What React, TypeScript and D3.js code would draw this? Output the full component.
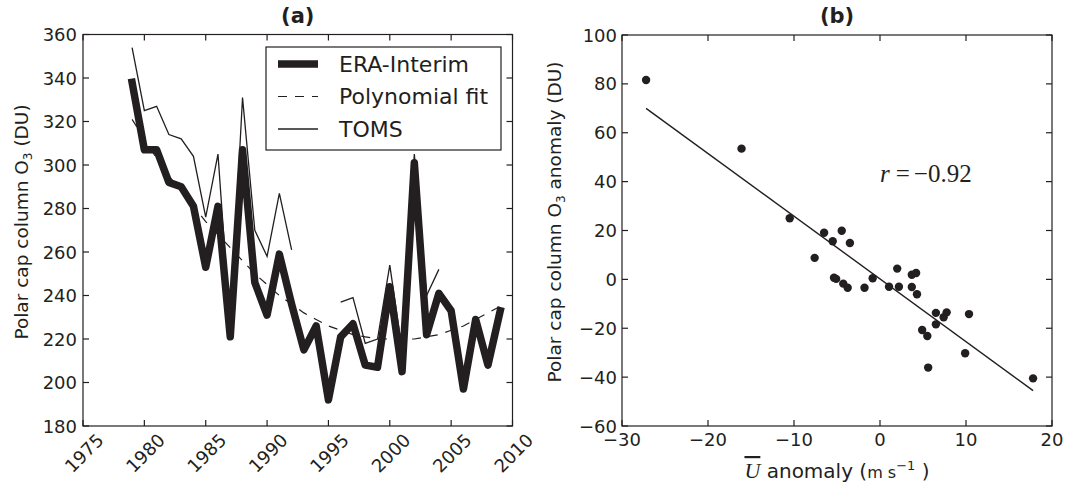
import * as d3 from 'd3'

// panel (a): polar cap column ozone, 1979-2009
const years = [1979, 1980, 1981, 1982, 1983, 1984, 1985, 1986, 1987, 1988, 1989, 1990, 1991, 1992, 1993, 1994,
  1995, 1996, 1997, 1998, 1999, 2000, 2001, 2002, 2003, 2004, 2005, 2006, 2007, 2008, 2009]
const eraInterim = [338, 307, 307, 292, 290, 281, 253, 281, 221, 307, 246, 231, 259, 236, 215, 226,
  192, 221, 227, 208, 207, 244, 205, 301, 222, 241, 233, 197, 229, 208, 233]
const polyFit = [321, 312, 303, 295, 288, 281, 274, 268, 262, 256, 250, 245, 240, 236, 232, 229,
  226, 224, 222, 221, 220, 220, 220, 220, 221, 222, 224, 226, 229, 232, 235]
const toms: (number | null)[] = [354, 325, 327, 314, 312, 304, 276, 305, 225, 331, 270, 258, 287, 261, null, null,
  null, 237, 239, 218, 220, 254, 215, 305, 240, 252, null, null, null, null, null]
const yearTicks = [1975, 1980, 1985, 1990, 1995, 2000, 2005, 2010]
const o3Ticks = [180, 200, 220, 240, 260, 280, 300, 320, 340, 360]
const legendLabels = ['ERA-Interim', 'Polynomial fit', 'TOMS']

// panel (b): wind anomaly vs ozone anomaly
const uAnomaly = [-27.2, -16.1, -10.5, -7.6, -6.5, -5.5, -4.45, -3.5, -5.35, -5.1, -4.27, -3.76, -1.8, -0.85, 1.05, 2.0,
  2.2, 3.7, 3.7, 4.2, 4.3, 4.9, 5.5, 5.6, 6.5, 6.5, 7.4, 7.75, 10.35, 9.9, 17.8]
const o3Anomaly = [81.6, 53.5, 25, 8.8, 19.1, 15.6, 19.9, 14.9, 0.7, 0.2, -1.75, -3.4, -3.4, 0.45, -3.0, 4.4,
  -3.0, -3.1, 1.9, 2.6, -6.1, -20.7, -23.2, -36.1, -13.7, -18.4, -15.5, -13.5, -14.2, -30.2, -40.5]
const regressionU = [-27.2, 17.8]
const regressionO3 = [70, -45.5]
const uTicks = [-30, -20, -10, 0, 10, 20]
const anomTicks = [-60, -40, -20, 0, 20, 40, 60, 80, 100]

const ink = '#231f20'
const font = 'DejaVu Sans'
const fmt = (d: number) => (d < 0 ? '\u2212' + Math.abs(d) : String(d))

function Frame({ xs, ys, xTicks, yTicks }: any) {
  const [x0, x1] = xs.range()
  const [y0, y1] = ys.range()
  const tl = 6
  return (
    <g stroke={ink} strokeWidth={1.2} fill="none">
      {xTicks.map((t: number) => (
        <g key={'x' + t}>
          <line x1={xs(t)} x2={xs(t)} y1={y0} y2={y0 - tl} />
          <line x1={xs(t)} x2={xs(t)} y1={y1} y2={y1 + tl} />
        </g>
      ))}
      {yTicks.map((t: number) => (
        <g key={'y' + t}>
          <line x1={x0} x2={x0 + tl} y1={ys(t)} y2={ys(t)} />
          <line x1={x1} x2={x1 - tl} y1={ys(t)} y2={ys(t)} />
        </g>
      ))}
      <rect x={x0} y={y1} width={x1 - x0} height={y0 - y1} />
    </g>
  )
}

export default function App() {
  const xa = d3.scaleLinear().domain([1975, 2010]).range([83, 512.5])
  const ya = d3.scaleLinear().domain([180, 360]).range([426, 34.5])
  const xb = d3.scaleLinear().domain([-30, 20]).range([622, 1052])
  const yb = d3.scaleLinear().domain([-60, 100]).range([426, 35])

  const lineA = d3.line<any>().defined((d) => d[1] != null).x((d) => xa(d[0])).y((d) => ya(d[1]))
  const eraPath = lineA(years.map((y, i) => [y, eraInterim[i]]))
  const fitPath = lineA(years.map((y, i) => [y, polyFit[i]]))
  const tomsPath = lineA(years.map((y, i) => [y, toms[i]]))
  const regPath = d3.line<number>().x((d) => xb(d)).y((d, i) => yb(regressionO3[i]))(regressionU)

  const legendStyles = [
    { w: 7.5, dash: undefined },
    { w: 1.2, dash: '9,8' },
    { w: 1.3, dash: undefined },
  ]

  return (
    <svg width={1067} height={484} style={{ position: 'absolute', left: 0, top: 0, background: '#fff' }}
      fontFamily={font} fill={ink}>
      {/* ---------- panel (a) ---------- */}
      <text x={(xa.range()[0] + xa.range()[1]) / 2} y={23} textAnchor="middle" fontWeight="bold" fontSize={21}>(a)</text>
      <path d={fitPath!} fill="none" stroke={ink} strokeWidth={1.2} strokeDasharray="9,8" />
      <path d={tomsPath!} fill="none" stroke={ink} strokeWidth={1.3} strokeLinejoin="miter" />
      <path d={eraPath!} fill="none" stroke={ink} strokeWidth={7.5} strokeLinejoin="round" strokeLinecap="square" />
      <Frame xs={xa} ys={ya} xTicks={yearTicks} yTicks={o3Ticks} />
      {o3Ticks.map((t) => (
        <text key={t} x={xa.range()[0] - 6} y={ya(t)} textAnchor="end" dominantBaseline="central" fontSize={18}>{t}</text>
      ))}
      {yearTicks.map((t) => (
        <text key={t} transform={`translate(${xa(t) + 1},453) rotate(-45)`} textAnchor="middle"
          dominantBaseline="central" fontSize={18}>{t}</text>
      ))}
      <text transform="translate(28,222) rotate(-90)" textAnchor="middle" fontSize={18.5}>
        Polar cap column O<tspan fontSize={12} dy={4}>3</tspan><tspan dy={-4}> (DU)</tspan>
      </text>
      {/* legend */}
      <rect x={266} y={47} width={235} height={103} fill="#fff" stroke={ink} strokeWidth={1.2} />
      {legendLabels.map((lab, i) => {
        const y = 64 + i * 32.5
        const s = legendStyles[i]
        return (
          <g key={lab}>
            <line x1={278} x2={318} y1={y} y2={y} stroke={ink} strokeWidth={s.w} strokeDasharray={s.dash} />
            <text x={339} y={y} dominantBaseline="central" fontSize={22}>{lab}</text>
          </g>
        )
      })}

      {/* ---------- panel (b) ---------- */}
      <text x={(xb.range()[0] + xb.range()[1]) / 2} y={23} textAnchor="middle" fontWeight="bold" fontSize={21}>(b)</text>
      <path d={regPath!} fill="none" stroke={ink} strokeWidth={1.4} />
      {uAnomaly.map((u, i) => (
        <circle key={i} cx={xb(u)} cy={yb(o3Anomaly[i])} r={4.2} fill={ink} />
      ))}
      <Frame xs={xb} ys={yb} xTicks={uTicks} yTicks={anomTicks} />
      {anomTicks.map((t) => (
        <text key={t} x={xb.range()[0] - 5} y={yb(t)} textAnchor="end" dominantBaseline="central" fontSize={18}>{fmt(t)}</text>
      ))}
      {uTicks.map((t) => (
        <text key={t} x={xb(t)} y={446} textAnchor="middle" fontSize={18}>{fmt(t)}</text>
      ))}
      <text transform="translate(561,222) rotate(-90)" textAnchor="middle" fontSize={18.5}>
        Polar cap column O<tspan fontSize={12} dy={4}>3</tspan><tspan dy={-4}> anomaly (DU)</tspan>
      </text>
      <text x={(xb.range()[0] + xb.range()[1]) / 2} y={478} textAnchor="middle" fontSize={20}>
        <tspan fontFamily="Liberation Serif" fontStyle="italic" fontSize={22} style={{ textDecoration: 'overline' }}>U</tspan>
        <tspan> anomaly (</tspan>
        <tspan fontSize={16}>m s</tspan>
        <tspan fontSize={13} dy={-8}>{'\u22121'}</tspan>
        <tspan dy={8}> )</tspan>
      </text>
      <text x={xb(0)} y={yb(40)} fontFamily="Liberation Serif" fontSize={25}>
        <tspan fontStyle="italic">r</tspan>
        <tspan dx={6}>=</tspan>
        <tspan dx={4}>{'\u22120.92'}</tspan>
      </text>
    </svg>
  )
}
